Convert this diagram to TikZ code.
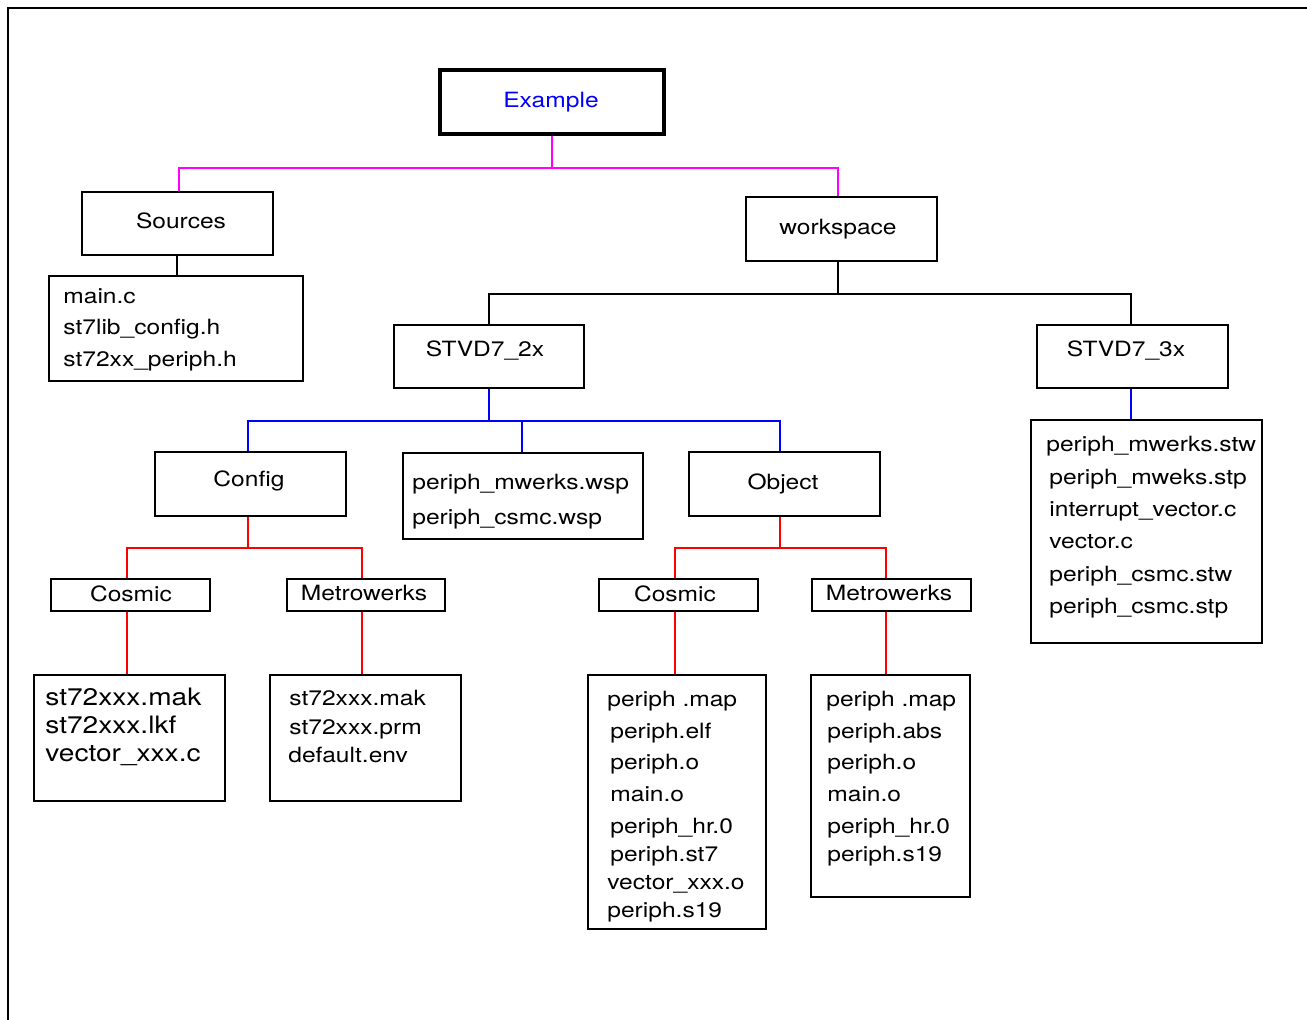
\documentclass[tikz,border=0pt]{standalone}
\usepackage{fontspec}
\setmainfont[FakeStretch=1.17]{TeX Gyre Heros}
\definecolor{lnmag}{RGB}{255,0,255}
\tikzset{
	dir_box/.style 2 args = {draw=black, line width=1pt, inner sep=0pt,
		minimum width=#1*0.5pt, minimum height=#2*0.5pt},
	top_box/.style 2 args = {dir_box={#1}{#2}, line width=2pt},
	txt_n/.style = {inner sep=0pt, anchor=base,
		font=\fontsize{10.5}{12}\selectfont},
	txt_l/.style = {txt_n, anchor=base west},
	txt_b/.style = {txt_l, font=\fontsize{12}{14}\selectfont},
	ln_m/.style = {lnmag, line width=1pt},
	ln_k/.style = {black, line width=1pt},
	ln_b/.style = {blue, line width=1pt},
	ln_r/.style = {red, line width=1pt}
}
\begin{document}
\begin{tikzpicture}[x=0.5pt,y=-0.5pt]
\useasboundingbox (0,0) rectangle (1307,1020);
\draw[ln_k] (8,1020) -- (8,8) -- (1307,8);
% boxes
\node [top_box={224}{64}] (ex) at (552,102) {};
\node [dir_box={191}{63}] (src) at (177.5,223.5) {};
\node [dir_box={254}{105}] (srcf) at (176,328.5) {};
\node [dir_box={191}{64}] (ws) at (841.5,229) {};
\node [dir_box={190}{63}] (v2) at (489,356.5) {};
\node [dir_box={191}{63}] (v3) at (1132.5,356.5) {};
\node [dir_box={231}{223}] (v3f) at (1146.5,531.5) {};
\node [dir_box={191}{64}] (cfg) at (250.5,484) {};
\node [dir_box={240}{86}] (wsp) at (523,496) {};
\node [dir_box={191}{64}] (obj) at (784.5,484) {};
\node [dir_box={159}{32}] (cc) at (130.5,595) {};
\node [dir_box={158}{32}] (cm) at (366,595) {};
\node [dir_box={191}{126}] (ccf) at (129.5,738) {};
\node [dir_box={191}{126}] (cmf) at (365.5,738) {};
\node [dir_box={159}{32}] (oc) at (678.5,595) {};
\node [dir_box={159}{32}] (om) at (891.5,595) {};
\node [dir_box={178}{254}] (ocf) at (677,802) {};
\node [dir_box={159}{222}] (omf) at (890.5,786) {};
% labels
\node [txt_n, blue] (ex-t) at (551,108) {Example};
\node [txt_n] (src-t) at (181,229) {Sources};
\node [txt_n] (ws-t) at (838,235) {workspace};
\node [txt_n] (v2-t) at (485,357) {STVD7\_2x};
\node [txt_n] (v3-t) at (1126,357) {STVD7\_3x};
\node [txt_n] (cfg-t) at (249,487) {Config};
\node [txt_n] (obj-t) at (783,490) {Object};
\node [txt_n] (cc-t) at (131,602) {Cosmic};
\node [txt_n] (cm-t) at (364,601) {Metrowerks};
\node [txt_n] (oc-t) at (675,602) {Cosmic};
\node [txt_n] (om-t) at (889,601) {Metrowerks};
% file lists
\foreach \x/\y/\t [count=\i] in {63/304/main.c, 63/335/st7lib\_config.h,
	63/367/st72xx\_periph.h}
	\node [txt_l] (srcf-\i) at (\x,\y) {\t};
\foreach \x/\y/\t [count=\i] in {412/490/periph\_mwerks.wsp,
	412/525/periph\_csmc.wsp}
	\node [txt_l] (wsp-\i) at (\x,\y) {\t};
\foreach \x/\y/\t [count=\i] in {1046/452/periph\_mwerks.stw,
	1049/485/periph\_mweks.stp, 1049/517/interrupt\_vector.c,
	1049/549/vector.c, 1049/582/periph\_csmc.stw, 1049/614/periph\_csmc.stp}
	\node [txt_l] (v3f-\i) at (\x,\y) {\t};
\foreach \x/\y/\t [count=\i] in {45/706/st72xxx.mak, 45/734/st72xxx.lkf,
	45/762/vector\_xxx.c}
	\node [txt_b] (ccf-\i) at (\x,\y) {\t};
\foreach \x/\y/\t [count=\i] in {289/706/st72xxx.mak, 289/735/st72xxx.prm,
	288/763/default.env}
	\node [txt_l] (cmf-\i) at (\x,\y) {\t};
\foreach \x/\y/\t [count=\i] in {607/707/periph .map, 610/739/periph.elf,
	610/770/periph.o, 610/802/main.o, 610/834/periph\_hr.0,
	610/862/periph.st7, 607/890/vector\_xxx.o, 607/918/periph.s19}
	\node [txt_l] (ocf-\i) at (\x,\y) {\t};
\foreach \x/\y/\t [count=\i] in {826/707/periph .map, 827/739/periph.abs,
	827/770/periph.o, 827/802/main.o, 827/834/periph\_hr.0,
	827/862/periph.s19}
	\node [txt_l] (omf-\i) at (\x,\y) {\t};
% connectors (stems sit a little off the box centres)
\draw[ln_m] (ex.south) -- ++(0,32) -| ([xshift=0.75pt]src.north);
\draw[ln_m] (ex.south) -- ++(0,32) -| ([xshift=-1.75pt]ws.north);
\draw[ln_k] ([xshift=-0.25pt]src.south) -- ([xshift=-0.25pt]src.south |- srcf.north);
\draw[ln_k] ([xshift=-1.75pt]ws.south) -- ++(0,32) -| (v2.north);
\draw[ln_k] ([xshift=-1.75pt]ws.south) -- ++(0,32) -| ([xshift=-0.75pt]v3.north);
\foreach \n/\d in {cfg/-1.25pt, wsp/-0.5pt, obj/-2.25pt}
	\draw[ln_b] (v2.south) -- ++(0,32) -| ([xshift=\d]\n.north);
\draw[ln_b] ([xshift=-1pt]v3.south) -- ([xshift=-1pt]v3.south |- v3f.north);
\foreach \p/\e/\a/\da/\b/\db in {cfg/-1.25pt/cc/-1.75pt/cm/-2pt,
	obj/-2.25pt/oc/-1.75pt/om/-2.75pt} {
	\draw[ln_r] ([xshift=\e]\p.south) -- ++(0,31) -| ([xshift=\da]\a.north);
	\draw[ln_r] ([xshift=\e]\p.south) -- ++(0,31) -| ([xshift=\db]\b.north);
}
\foreach \a/\d in {cc/-1.75pt, cm/-2pt, oc/-1.75pt, om/-2.75pt}
	\draw[ln_r] ([xshift=\d]\a.south) -- ([xshift=\d]\a.south |- \a f.north);
\end{tikzpicture}
\end{document}
